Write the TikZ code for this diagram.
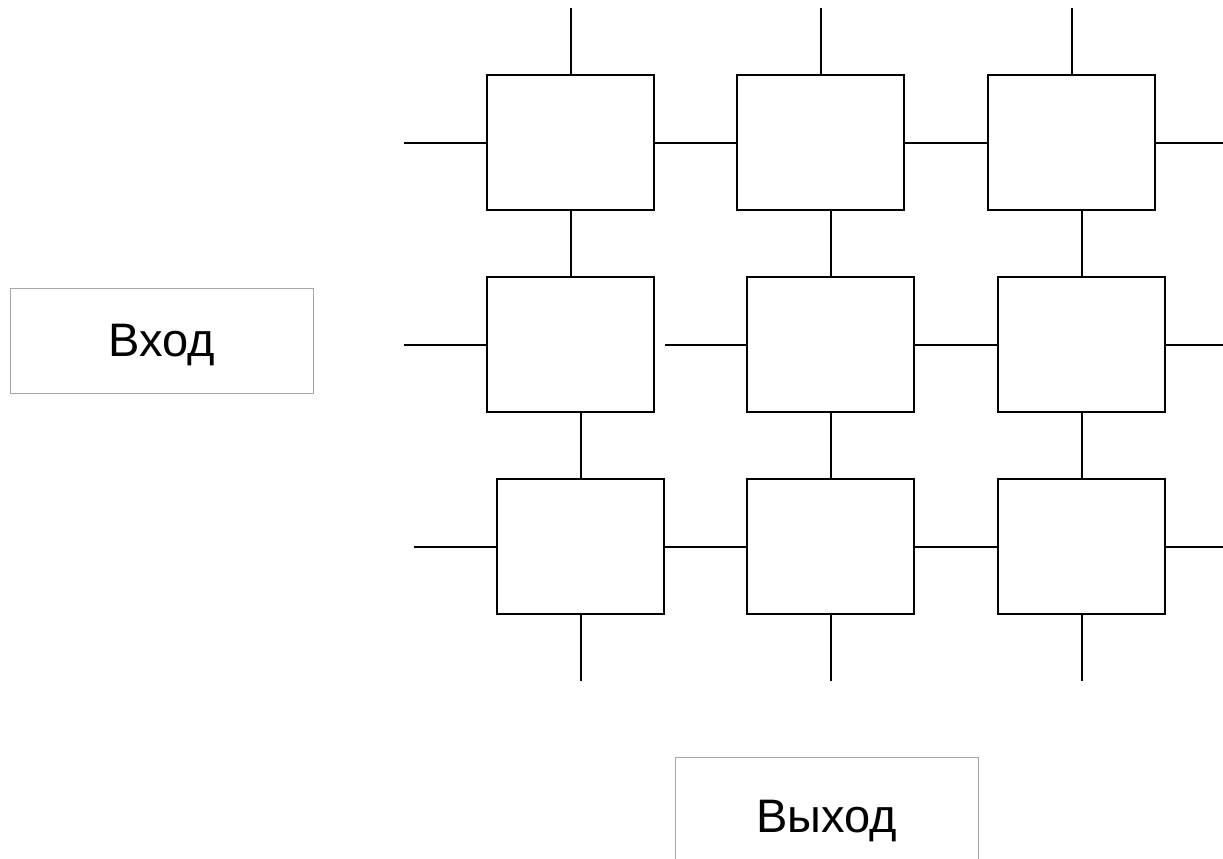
\documentclass[tikz,border=0pt]{standalone}
\usepackage{fontspec}
\setmainfont{Liberation Sans}
\begin{document}
\begin{tikzpicture}[x=1pt,y=-1pt,
  cell/.style={draw=black,line width=2pt,minimum width=167pt,minimum height=135pt,inner sep=0pt,outer sep=0pt},
  wire/.style={draw=black,line width=2pt},
  label/.style={draw=gray!70,line width=1pt,minimum width=303pt,inner sep=0pt,outer sep=0pt,text depth=0pt,font=\fontsize{47}{56}\selectfont}]
\useasboundingbox (0,0) rectangle (1223,859);
\clip (0,0) rectangle (1223,859);
% grid cells
\node[cell] (b1) at (570.5,142.5) {};
\node[cell] (b2) at (820.5,142.5) {};
\node[cell] (b3) at (1071.5,142.5) {};
\node[cell] (b4) at (570.5,344.5) {};
\node[cell] (b5) at (830.5,344.5) {};
\node[cell] (b6) at (1081.5,344.5) {};
\node[cell] (b7) at (580.5,546.5) {};
\node[cell] (b8) at (830.5,546.5) {};
\node[cell] (b9) at (1081.5,546.5) {};
% free ends
\coordinate (t1) at (570.5,8);
\coordinate (t2) at (820.5,8);
\coordinate (t3) at (1071.5,8);
\coordinate (l1) at (404,142.5);
\coordinate (l2) at (404,344.5);
\coordinate (l3) at (414,546.5);
\coordinate (r1) at (1223,142.5);
\coordinate (r2) at (1223,344.5);
\coordinate (r3) at (1223,546.5);
\coordinate (g45) at (665,344.5);
\coordinate (d7) at (580.5,681);
\coordinate (d8) at (830.5,681);
\coordinate (d9) at (1081.5,681);
% connectors
\draw[wire] (t1) -- (b1.north);
\draw[wire] (t2) -- (b2.north);
\draw[wire] (t3) -- (b3.north);
\draw[wire] (l1) -- (b1.west);
\draw[wire] (b1.east) -- (b2.west);
\draw[wire] (b2.east) -- (b3.west);
\draw[wire] (b3.east) -- (r1);
\draw[wire] (l2) -- (b4.west);
\draw[wire] (g45) -- (b5.west);
\draw[wire] (b5.east) -- (b6.west);
\draw[wire] (b6.east) -- (r2);
\draw[wire] (l3) -- (b7.west);
\draw[wire] (b7.east) -- (b8.west);
\draw[wire] (b8.east) -- (b9.west);
\draw[wire] (b9.east) -- (r3);
\draw[wire] (b1.south) -- (b4.north);
\draw[wire] (b5.north) -- (b5.north |- b2.south);
\draw[wire] (b6.north) -- (b6.north |- b3.south);
\draw[wire] (b7.north) -- (b7.north |- b4.south);
\draw[wire] (b5.south) -- (b8.north);
\draw[wire] (b6.south) -- (b9.north);
\draw[wire] (b7.south) -- (d7);
\draw[wire] (b8.south) -- (d8);
\draw[wire] (b9.south) -- (d9);
% labels
\node[label,minimum height=105pt] (in) at (161.5,340.5) {Вход};
\node[label,minimum height=118pt] (out) at (826.5,816) {Выход};
\end{tikzpicture}
\end{document}
